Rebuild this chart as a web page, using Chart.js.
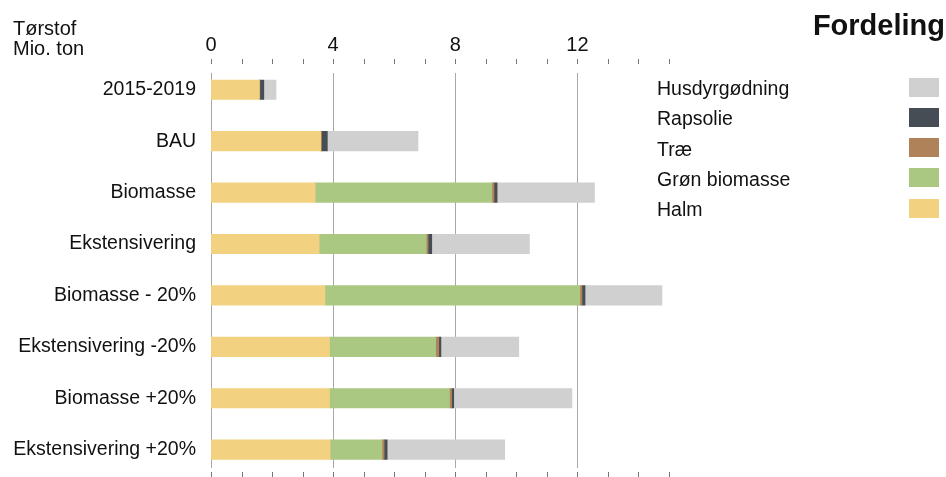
<!DOCTYPE html>
<html>
<head>
<meta charset="utf-8">
<script src="https://cdn.jsdelivr.net/npm/chart.js@4.4.1/dist/chart.umd.min.js"></script>
<style>
  html, body { margin: 0; padding: 0; background: #fff; }
  #wrap { position: relative; width: 946px; height: 477px; overflow: hidden; font-family: "Liberation Sans", Arial, sans-serif; color: #111; }
  #c { position: absolute; left: 0; top: 0; }
  .unit { position: absolute; left: 13px; top: 19px; font-size: 20px; line-height: 19.5px; }
  .ttl { position: absolute; right: 1px; top: 9px; font-size: 29px; font-weight: bold; line-height: 32px; }
  .lg { position: absolute; left: 657px; font-size: 19.5px; line-height: 22px; }
  .bx { position: absolute; left: 909px; width: 30px; height: 19px; }
</style>
</head>
<body>
<div id="wrap">
  <canvas id="c" width="946" height="477"></canvas>
  <div class="unit">Tørstof<br>Mio. ton</div>
  <div class="ttl">Fordeling</div>
  <div id="legend"></div>
</div>
<script>
const categories = ["2015-2019", "BAU", "Biomasse", "Ekstensivering", "Biomasse - 20%", "Ekstensivering -20%", "Biomasse +20%", "Ekstensivering +20%"];
const halm          = [1.58, 3.59, 3.41, 3.54, 3.73, 3.88, 3.88, 3.90];
const gronBiomasse  = [0.00, 0.00, 5.79, 3.51, 8.35, 3.48, 3.93, 1.70];
const trae          = [0.02, 0.03, 0.07, 0.06, 0.07, 0.10, 0.07, 0.07];
const rapsolie      = [0.13, 0.19, 0.10, 0.12, 0.10, 0.07, 0.07, 0.10];
const husdyrgodning = [0.40, 2.97, 3.19, 3.20, 2.52, 2.55, 3.87, 3.85];
const tickLabels = [0, 4, 8, 12];
const seriesNames = ["Halm", "Grøn biomasse", "Træ", "Rapsolie", "Husdyrgødning"];
const seriesColors = ["#F2D280", "#AAC882", "#B0825A", "#474D54", "#D0D0D0"];
const seriesValues = [halm, gronBiomasse, trae, rapsolie, husdyrgodning];

const datasets = seriesNames.map((n, i) => ({
  label: n,
  data: seriesValues[i],
  backgroundColor: seriesColors[i],
  borderWidth: 0,
  barThickness: 19.5
}));

const axisMarks = {
  id: 'axisMarks',
  beforeDatasetsDraw(chart) {
    const ctx = chart.ctx, x = chart.scales.x;
    ctx.save();
    ctx.strokeStyle = '#A8A8A8';
    ctx.lineWidth = 1;
    tickLabels.forEach(v => {
      const px = Math.round(x.getPixelForValue(v)) + 0.5;
      ctx.beginPath(); ctx.moveTo(px, 73); ctx.lineTo(px, 468); ctx.stroke();
    });
    ctx.restore();
  },
  afterDraw(chart) {
    const ctx = chart.ctx, x = chart.scales.x;
    ctx.save();
    ctx.strokeStyle = '#777';
    ctx.lineWidth = 1;
    for (let v = x.min; v <= x.max; v++) {
      const px = Math.round(x.getPixelForValue(v)) + 0.5;
      ctx.beginPath(); ctx.moveTo(px, 59); ctx.lineTo(px, 64); ctx.stroke();
      ctx.beginPath(); ctx.moveTo(px, 472); ctx.lineTo(px, 477); ctx.stroke();
    }
    ctx.restore();
  }
};

new Chart(document.getElementById('c'), {
  type: 'bar',
  data: { labels: categories, datasets },
  options: {
    indexAxis: 'y',
    responsive: false,
    animation: false,
    layout: { padding: { left: 0, right: 277, top: 0, bottom: 1.6 } },
    plugins: { legend: { display: false }, tooltip: { enabled: false } },
    scales: {
      x: {
        position: 'top',
        stacked: true,
        min: 0, max: 15,
        grid: { display: false, drawTicks: false },
        border: { display: false },
        afterFit(s) { s.height = 64; s.paddingLeft = 0; s.paddingRight = 0; },
        ticks: {
          stepSize: 1, autoSkip: false, maxRotation: 0, padding: 7,
          color: '#111',
          font: { family: '"Liberation Sans", Arial, sans-serif', size: 20 },
          callback: (v) => tickLabels.includes(v) ? String(v) : ''
        }
      },
      y: {
        stacked: true,
        grid: { display: false, drawTicks: false },
        border: { display: false },
        afterFit(s) { s.width = 211; s.paddingTop = 0; s.paddingBottom = 0; },
        ticks: {
          padding: 15, color: '#111',
          font: { family: '"Liberation Sans", Arial, sans-serif', size: 19.5 }
        }
      }
    }
  },
  plugins: [axisMarks]
});

// legend (top item = last series)
const lg = document.getElementById('legend');
const order = [4, 3, 2, 1, 0];
order.forEach((si, row) => {
  const cy = 88 + row * 30.3;
  const t = document.createElement('div');
  t.className = 'lg'; t.textContent = seriesNames[si];
  t.style.top = (cy - 11) + 'px';
  lg.appendChild(t);
  const b = document.createElement('div');
  b.className = 'bx'; b.style.background = seriesColors[si];
  b.style.top = (cy - 10.5) + 'px';
  lg.appendChild(b);
});
</script>
</body>
</html>
